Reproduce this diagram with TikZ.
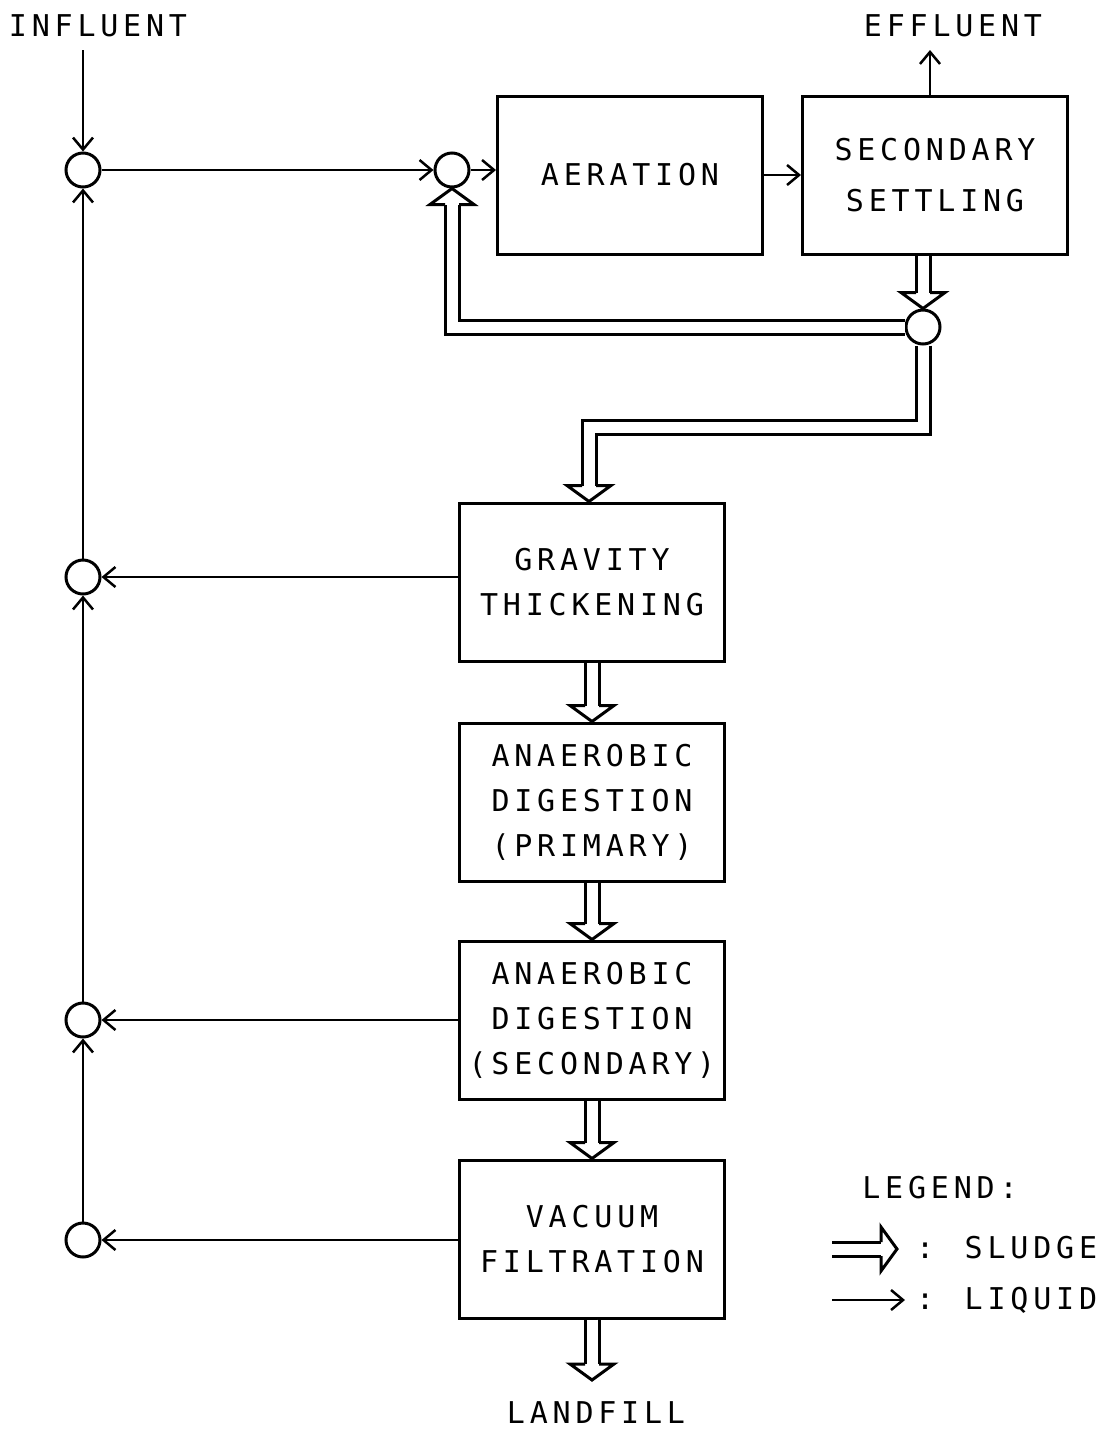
\documentclass[tikz,border=0pt]{standalone}
\usepackage{fontspec}
\setmainfont{DejaVu Sans Mono}[LetterSpace=16]
\usetikzlibrary{arrows.meta, positioning}

\begin{document}
\begin{tikzpicture}[
    x=1pt, y=-1pt,
    every node/.style={font=\fontsize{30}{45}\selectfont},
    stage/.style={draw, line width=3pt, minimum width=265pt, minimum height=158pt, align=center, inner sep=0pt},
    junc/.style={draw, circle, line width=3pt, minimum size=34pt, inner sep=0pt, fill=white},
    txt/.style={inner sep=0pt},
    liquid/.style={line width=2.5pt, -{Straight Barb[length=12pt, width=20pt]}},
    sludge/.style={line width=3pt, double, double distance=11pt, shorten >=16pt, line join=miter},
    shead/.pic={\draw[line width=3pt, line join=miter] (-16pt,7pt) -- (-16pt,22pt) -- (0pt,0pt) -- (-16pt,-22pt) -- (-16pt,-7pt);}
]
\useasboundingbox (0,0) rectangle (1114,1433);

\node[txt] (infl) at (98,26) {INFLUENT};
\node[txt] (effl) at (953,26) {EFFLUENT};
\node[txt] (lf) at (596,1413) {LANDFILL};

\node[stage] (aer) at (630,175) {AERATION};
\node[stage, right=37pt of aer] (sst) {SECONDARY\\[6pt]SETTLING};
\node[stage] (gt) at (592,582) {GRAVITY\\THICKENING};
\node[stage, below=59pt of gt] (adp) {ANAEROBIC\\DIGESTION\\(PRIMARY)};
\node[stage, below=57pt of adp] (ads) {ANAEROBIC\\DIGESTION\\(SECONDARY)};
\node[stage, below=58pt of ads] (vf) {VACUUM\\FILTRATION};

\node[junc] (j1) at (83,170) {};
\node[junc] (j2) at (452,170) {};
\node[junc] (j3) at (923,327) {};
\node[junc] (j4) at (83,577) {};
\node[junc] (j5) at (83,1020) {};
\node[junc] (j6) at (83,1240) {};

\coordinate (inflin) at (83,50);
\coordinate (effout) at (930,50);
\coordinate (sbend) at (589,427);
\coordinate (lfin) at (592,1380);

% liquid lines
\draw[liquid] (inflin) -- (j1);
\draw[liquid] (j1) -- (j2);
\draw[liquid] (j2) -- (j2 -| aer.west);
\draw[liquid] (aer) -- (sst);
\draw[liquid] (effout |- sst.north) -- (effout);
\draw[liquid] (gt.west |- j4) -- (j4);
\draw[liquid] (ads.west |- j5) -- (j5);
\draw[liquid] (vf.west |- j6) -- (j6);
\draw[liquid] (j6) -- (j5);
\draw[liquid] (j5) -- (j4);
\draw[liquid] (j4) -- (j1);

% sludge lines
\draw[sludge] (j3 |- sst.south) -- (j3.north);
\pic[rotate=-90] at (j3.north) {shead};
\draw[sludge] (j3.west) -| (j2.south);
\pic[rotate=90] at (j2.south) {shead};
\draw[sludge] (j3.south) |- (sbend) -- (sbend |- gt.north);
\pic[rotate=-90] at (sbend |- gt.north) {shead};
\draw[sludge] (gt) -- (adp.north);
\pic[rotate=-90] at (adp.north) {shead};
\draw[sludge] (adp) -- (ads.north);
\pic[rotate=-90] at (ads.north) {shead};
\draw[sludge] (ads) -- (vf.north);
\pic[rotate=-90] at (vf.north) {shead};
\draw[sludge] (vf.south) -- (lfin);
\pic[rotate=-90] at (lfin) {shead};

% legend
\node[txt] (leg) at (940,1188) {LEGEND:};
\node[txt, anchor=west] (lsl) at (916,1248) {: SLUDGE};
\node[txt, anchor=west] (lliq) at (916,1300) {: LIQUID};
\coordinate (slA) at (832,1249);
\coordinate (slB) at (897,1249);
\coordinate (lqA) at (832,1300);
\coordinate (lqB) at (905,1300);
\draw[sludge] (slA) -- (slB);
\pic at (slB) {shead};
\draw[liquid] (lqA) -- (lqB);
\end{tikzpicture}
\end{document}
